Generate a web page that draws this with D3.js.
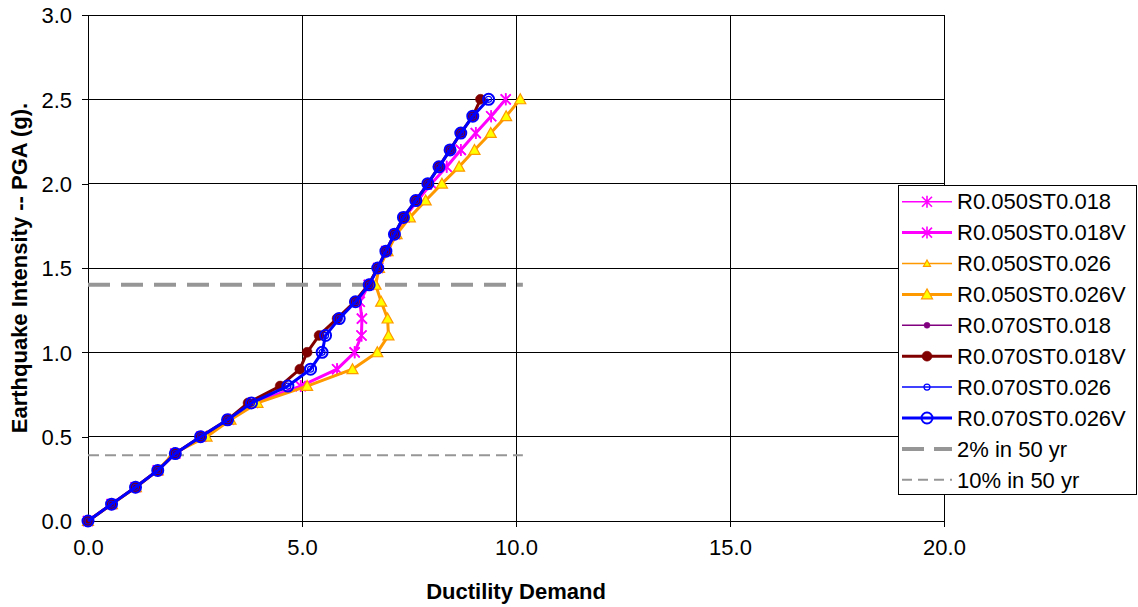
<!DOCTYPE html>
<html><head><meta charset="utf-8">
<script src="https://cdn.jsdelivr.net/npm/d3@7"></script>
<style>body{margin:0;background:#fff;} svg{display:block;font-family:"Liberation Sans",Arial,sans-serif;}</style>
</head><body><svg id="c" width="1138" height="607"></svg>
<script>
// ---- data ----
const pga = [0,0.1,0.2,0.3,0.4,0.5,0.6,0.7,0.8,0.9,1.0,1.1,1.2,1.3,1.4,1.5,1.6,1.7,1.8,1.9,2.0,2.1,2.2,2.3,2.4,2.5];
const r050st018  = [0,0.55,1.11,1.63,2.04,2.65,3.29,3.86,4.97,5.82,6.23,6.39,6.40,6.35,6.56,6.78,6.97,7.18,7.40,7.70,8.02,8.38,8.71,9.06,9.42,9.76];
const r050st018V = [0,0.55,1.11,1.63,2.04,2.65,3.29,3.86,4.97,5.82,6.23,6.39,6.40,6.35,6.56,6.78,6.97,7.18,7.40,7.70,8.02,8.38,8.71,9.06,9.42,9.76];
const r050st026  = [0,0.56,1.12,1.63,2.00,2.77,3.33,3.96,5.12,6.18,6.76,7.02,7.00,6.85,6.72,6.80,7.00,7.21,7.52,7.89,8.27,8.67,9.03,9.41,9.77,10.10];
const r050st026V = [0,0.56,1.12,1.63,2.00,2.77,3.33,3.96,5.12,6.18,6.76,7.02,7.00,6.85,6.72,6.80,7.00,7.21,7.52,7.89,8.27,8.67,9.03,9.41,9.77,10.10];
const r070st018  = [0,0.55,1.11,1.63,2.04,2.63,3.26,3.74,4.49,4.95,5.12,5.40,5.82,6.23,6.55,6.77,6.96,7.16,7.37,7.66,7.94,8.20,8.46,8.71,8.99,9.17];
const r070st018V = [0,0.55,1.11,1.63,2.04,2.63,3.26,3.74,4.49,4.95,5.12,5.40,5.82,6.23,6.55,6.77,6.96,7.16,7.37,7.66,7.94,8.20,8.46,8.71,8.99,9.17];
const r070st026  = [0,0.55,1.11,1.63,2.04,2.63,3.26,3.82,4.67,5.20,5.47,5.55,5.87,6.25,6.57,6.77,6.96,7.16,7.37,7.66,7.94,8.20,8.46,8.71,8.99,9.36];
const r070st026V = [0,0.55,1.11,1.63,2.04,2.63,3.26,3.82,4.67,5.20,5.47,5.55,5.87,6.25,6.57,6.77,6.96,7.16,7.37,7.66,7.94,8.20,8.46,8.71,8.99,9.36];
const hazardNames = ["2% in 50 yr","10% in 50 yr"];
const hazardPGA = [1.40, 0.39];
const hazardX = [0, 10.16];
const xTicks = [0,5,10,15,20];
const yTicks = [0,0.5,1.0,1.5,2.0,2.5,3.0];
const seriesNames = ["R0.050ST0.018","R0.050ST0.018V","R0.050ST0.026","R0.050ST0.026V","R0.070ST0.018","R0.070ST0.018V","R0.070ST0.026","R0.070ST0.026V"];
const seriesValues = [r050st018,r050st018V,r050st026,r050st026V,r070st018,r070st018V,r070st026,r070st026V];

// ---- styles ----
const styles = [
  {color:"#FF00FF", w:1.5, marker:"star", size:5},
  {color:"#FF00FF", w:3, marker:"star", size:5},
  {color:"#FF9900", w:1.5, marker:"tri", size:3.5},
  {color:"#FF9900", w:3, marker:"tri", size:5.5},
  {color:"#800080", w:1.5, marker:"dot", size:3},
  {color:"#800000", w:3, marker:"dot", size:5},
  {color:"#0000FF", w:1.5, marker:"ring", size:3},
  {color:"#0000FF", w:3, marker:"ring", size:5.5}
];
const hazStyles = [{w:4, dash:"22,11"},{w:2, dash:"11,6"}];

const svg = d3.select("#c");
const x = d3.scaleLinear().domain([0,20]).range([88,944]);
const y = d3.scaleLinear().domain([0,3]).range([521,15]);

// grid
const g = svg.append("g").attr("shape-rendering","crispEdges");
g.selectAll(".hg").data(yTicks).join("line")
  .attr("x1",x(0)).attr("x2",x(20)).attr("y1",d=>y(d)).attr("y2",d=>y(d))
  .attr("stroke","#000").attr("stroke-width",1);
g.selectAll(".vg").data(xTicks).join("line")
  .attr("x1",d=>x(d)).attr("x2",d=>x(d)).attr("y1",y(0)).attr("y2",y(3))
  .attr("stroke","#000").attr("stroke-width",1);

// axes
const xAxis = d3.axisBottom(x).tickValues(xTicks).tickFormat(d3.format(".1f")).tickSize(6).tickPadding(12);
const yAxis = d3.axisLeft(y).tickValues(yTicks).tickFormat(d3.format(".1f")).tickSize(6).tickPadding(10);
const gx = svg.append("g").attr("transform",`translate(0,${y(0)})`).call(xAxis);
const gy = svg.append("g").attr("transform",`translate(${x(0)},0)`).call(yAxis);
[gx,gy].forEach(a=>{
  a.select(".domain").attr("stroke","#000").attr("shape-rendering","crispEdges");
  a.selectAll(".tick line").attr("stroke","#000").attr("shape-rendering","crispEdges");
  a.selectAll("text").attr("font-size",22).attr("fill","#000").attr("font-family","Liberation Sans, Arial, sans-serif");
});
gy.selectAll("text").attr("dy","0.35em");

// axis titles
svg.append("text").attr("x",516).attr("y",599).attr("text-anchor","middle")
  .attr("font-size",22).attr("font-weight","bold").text("Ductility Demand");
svg.append("text").attr("transform",`translate(27,268) rotate(-90)`).attr("text-anchor","middle")
  .attr("font-size",22).attr("font-weight","bold").text("Earthquake Intensity -- PGA (g).");

// hazard lines
hazardPGA.forEach((p,i)=>{
  svg.append("line").attr("x1",x(hazardX[0])).attr("x2",x(hazardX[1]))
    .attr("y1",y(p)).attr("y2",y(p)).attr("stroke","#969696")
    .attr("stroke-width",hazStyles[i].w).attr("stroke-dasharray",hazStyles[i].dash);
});

function drawMarker(sel, st, cx, cy){
  const s = st.size;
  if(st.marker==="star"){
    sel.append("path").attr("d",`M${cx-s},${cy-s}L${cx+s},${cy+s}M${cx-s},${cy+s}L${cx+s},${cy-s}M${cx},${cy-s-1}L${cx},${cy+s+1}`)
      .attr("stroke",st.color).attr("stroke-width",1.6).attr("fill","none");
  } else if(st.marker==="tri"){
    sel.append("path").attr("d",`M${cx},${cy-s}L${cx+s},${cy+s*0.8}L${cx-s},${cy+s*0.8}Z`)
      .attr("fill","#FFFF00").attr("stroke",st.color).attr("stroke-width",1.2);
  } else if(st.marker==="dot"){
    sel.append("circle").attr("cx",cx).attr("cy",cy).attr("r",s).attr("fill",st.color).attr("stroke",st.color).attr("stroke-width",0.5);
  } else if(st.marker==="ring"){
    sel.append("circle").attr("cx",cx).attr("cy",cy).attr("r",s).attr("fill","none").attr("stroke",st.color).attr("stroke-width",st.w>2?2:1.2);
  }
}

// series
const line = d3.line().x(d=>x(d[0])).y(d=>y(d[1]));
seriesValues.forEach((vals,i)=>{
  const st = styles[i];
  const pts = vals.map((v,j)=>[v,pga[j]]);
  const sg = svg.append("g");
  sg.append("path").attr("d",line(pts)).attr("fill","none").attr("stroke",st.color).attr("stroke-width",st.w).attr("stroke-linejoin","round");
  pts.forEach(p=>drawMarker(sg,st,x(p[0]),y(p[1])));
});

// legend
const lg = svg.append("g");
lg.append("rect").attr("x",898.5).attr("y",185.5).attr("width",238).attr("height",309)
  .attr("fill","#fff").attr("stroke","#000").attr("stroke-width",1);
const rowY = i => 201.7 + i*30.9;
seriesNames.forEach((n,i)=>{
  const st = styles[i];
  const cy = rowY(i);
  lg.append("line").attr("x1",902).attr("x2",952).attr("y1",cy).attr("y2",cy).attr("stroke",st.color).attr("stroke-width",st.w);
  drawMarker(lg,st,927,cy);
  lg.append("text").attr("x",957).attr("y",cy).attr("dy","0.35em").attr("font-size",22).text(n);
});
hazardNames.forEach((n,i)=>{
  const cy = rowY(8+i);
  lg.append("line").attr("x1",902).attr("x2",952).attr("y1",cy).attr("y2",cy).attr("stroke","#969696")
    .attr("stroke-width",hazStyles[i].w).attr("stroke-dasharray",i===0?"22,10":"10,6");
  lg.append("text").attr("x",957).attr("y",cy).attr("dy","0.35em").attr("font-size",22).text(n);
});
</script></body></html>
